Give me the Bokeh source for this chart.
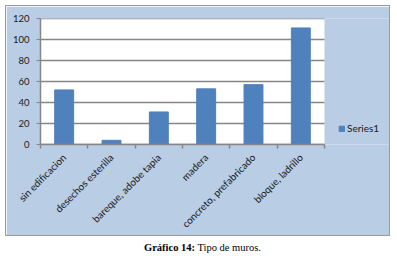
from math import pi
from bokeh.plotting import figure
from bokeh.models import (ColumnDataSource, LinearAxis, Range1d, FixedTicker, Div,
                          BoxAnnotation, Spacer)
from bokeh.layouts import column, row
from bokeh.embed import file_html
from bokeh.resources import INLINE

categories = ["sin edificacion", "desechos esterilla", "bareque, adobe tapia",
              "madera", "concreto, prefabricado", "bloque, ladrillo"]
values = [52, 4, 31, 53, 57, 111]
y_ticks = [0, 20, 40, 60, 80, 100, 120]
series_name = "Series1"
caption_bold = "Gráfico 14:"
caption_text = "Tipo de muros."

BLUE_BG = "#b9cde5"
BAR = "#4f81bd"
GRID = "#868686"
TXT = "#1a1a1a"

n = len(categories)
y_max = y_ticks[-1]
centers = [i + 0.5 for i in range(n)]
src = ColumnDataSource(dict(x=centers, val=values, cat=categories))
grid_src = ColumnDataSource(dict(x0=[0] * len(y_ticks), x1=[n] * len(y_ticks), y=y_ticks))

# frame extends over the legend area; data area is 284 of 350 px
x_end = n * 350 / 284

p = figure(width=385, height=231, output_backend="svg", toolbar_location=None,
           x_range=Range1d(0, x_end), y_range=Range1d(0, y_max), x_axis_location=None,
           min_border_left=34, min_border_top=12, min_border_right=1,
           min_border_bottom=93)
p.border_fill_color = BLUE_BG
p.background_fill_color = BLUE_BG
p.outline_line_color = None
p.styles = {"border": "1px solid #9a9a9a", "box-sizing": "border-box"}

p.add_layout(BoxAnnotation(left=0, right=n, bottom=0, top=y_max, fill_color="white",
                           fill_alpha=1, line_color=None, level="underlay"))

p.xgrid.grid_line_color = None
p.ygrid.grid_line_color = None
p.segment(x0="x0", x1="x1", y0="y", y1="y", source=grid_src,
          line_color=GRID, line_width=1.5)

p.vbar(x="x", top="val", width=0.4, source=src, color=BAR, legend_label=series_name)

tick_axis = LinearAxis(ticker=FixedTicker(ticks=list(range(n + 1))), bounds=(0, n),
                       major_label_text_font_size="0px", major_label_standoff=0,
                       major_tick_in=0, major_tick_out=4, minor_tick_line_color=None,
                       axis_line_color=GRID, axis_line_width=1.5,
                       major_tick_line_color=GRID, major_tick_line_width=1.5)
p.add_layout(tick_axis, "below")

cat_axis = LinearAxis(ticker=FixedTicker(ticks=centers), bounds=(0, n),
                      major_label_overrides={c: lab for c, lab in zip(centers, categories)},
                      axis_line_color=None, major_tick_line_color=None,
                      minor_tick_line_color=None,
                      major_label_orientation=pi / 4, major_label_standoff=1,
                      major_label_text_font="Lato", major_label_text_font_size="10px",
                      major_label_text_color=TXT)
p.add_layout(cat_axis, "below")

p.yaxis.ticker = FixedTicker(ticks=y_ticks)
p.yaxis.axis_line_color = GRID
p.yaxis.axis_line_width = 1.5
p.yaxis.major_tick_line_color = GRID
p.yaxis.major_tick_in = 0
p.yaxis.major_tick_out = 4
p.yaxis.minor_tick_line_color = None
p.yaxis.major_label_text_font = "Lato"
p.yaxis.major_label_text_font_size = "9.5px"
p.yaxis.major_label_text_color = TXT
p.yaxis.major_label_standoff = 7

p.legend.location = (298, 10)
p.legend.background_fill_alpha = 0
p.legend.border_line_color = None
p.legend.label_text_font = "Lato"
p.legend.label_text_font_size = "10px"
p.legend.label_text_color = TXT
p.legend.glyph_width = 7
p.legend.glyph_height = 7
p.legend.label_standoff = 2
p.legend.padding = 3
p.legend.margin = 0

div = Div(text=f"<b>{caption_bold}</b> {caption_text}", width=385, height=18,
          styles={"text-align": "center", "font-family": "Liberation Serif",
                  "font-size": "10.5px", "color": "#000", "margin-top": "4px"})

layout = row(Spacer(width=5), column(Spacer(height=5), p, div, spacing=0), spacing=0)
open("out.html", "w").write(file_html(layout, INLINE))
